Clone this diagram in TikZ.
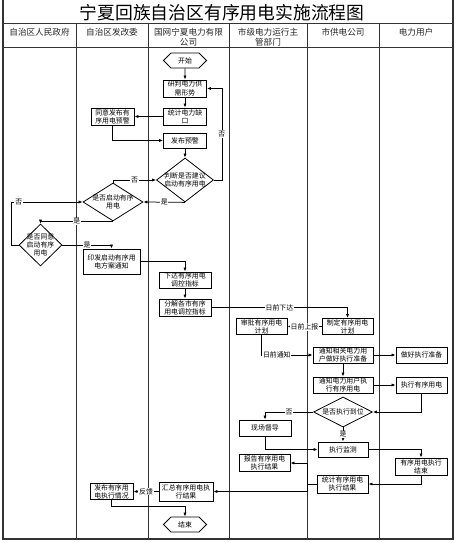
\documentclass[tikz,border=0pt]{standalone}
\usepackage{fontspec}
\newfontfamily\cjk{Noto Sans CJK SC}
\usetikzlibrary{arrows.meta,shapes.geometric,shapes.symbols,calc}

\tikzset{
  lane/.style={line width=0.9pt, black!80},
  frame/.style={line width=1.4pt, black!80},
  head/.style={anchor=north, align=center, inner sep=0pt, text=black!85, font=\cjk\fontsize{8.6}{10}\selectfont},
  box/.style={draw, line width=0.95pt, align=center, inner sep=0.5pt, minimum width=51pt, minimum height=16pt, font=\cjk\fontsize{6.9}{8.2}\selectfont},
  term/.style={signal, signal to=west and east, draw, line width=0.8pt, minimum width=43pt, minimum height=15pt, inner sep=0pt, font=\cjk\fontsize{6.9}{8.2}\selectfont},
  decision/.style={diamond, draw, line width=0.8pt, inner sep=0pt},
  dtext/.style={align=center, inner sep=0pt, font=\cjk\fontsize{6.9}{8.2}\selectfont},
  arr/.style={-{Latex[length=4pt,width=3.2pt]}, line width=0.75pt},
  lbl/.style={fill=white, inner sep=0.8pt, font=\cjk\fontsize{6.9}{8}\selectfont},
}

\begin{document}
\begin{tikzpicture}[x=1pt,y=-1pt]
\useasboundingbox (0,0) rectangle (458,543);

% lanes and header
\draw[frame] (3,0) -- (3,539) -- (453,539) -- (453,0);
\draw[lane] (3,23) -- (453,23);
\draw[lane] (3,47) -- (453,47);
\foreach \x in {76,148,229,307,379}
  \draw[lane] (\x,23) -- (\x,539);

\node[font=\cjk\fontsize{17.8}{20}\selectfont] (title) at (222,12.5) {宁夏回族自治区有序用电实施流程图};
\foreach \cx/\txt [count=\i] in {39.5/自治区人民政府, 112/自治区发改委, 188.5/国网宁夏电力有限\\公司, 268/市级电力运行主\\管部门, 343/市供电公司, 416/电力用户}
  \node[head] (h\i) at (\cx,28) {\txt};

% nodes
\node[term] (start) at (185,60.5) {开始};
\node[box, minimum width=43pt, minimum height=17pt] (yanpan) at (185,88.5) {研判电力供\\需形势};
\node[box, minimum width=43pt, minimum height=17pt] (tongji) at (185,116.5) {统计电力缺\\口};
\node[box, minimum width=43pt, minimum height=17pt] (tongyi) at (112.5,116.5) {同意发布有\\序用电预警};
\node[box, minimum width=43pt, minimum height=15pt] (yujing) at (185,140.5) {发布预警};
\node[decision, minimum width=57pt, minimum height=44pt, label={[dtext]center:{判断是否建议\\启动有序用电}}] (judge) at (185,180) {};
\node[decision, minimum width=60pt, minimum height=38pt, label={[dtext]center:{是否启动有序\\用电}}] (dstart) at (113,202) {};
\node[decision, minimum width=43pt, minimum height=42pt, label={[dtext]center:{是否同意\\启动有序\\用电}}] (dagree) at (40.5,245) {};
\node[box, minimum width=57pt, minimum height=25pt] (yinfa) at (111.5,261.5) {印发启动有序用\\电方案通知};
\node[box, minimum width=52pt] (xiada) at (185,280) {下达有序用电\\调控指标};
\node[box, minimum width=52pt, minimum height=17pt] (fenjie) at (185,307.5) {分解各市有序\\用电调控指标};
\node[box] (shenpi) at (261.5,326.5) {审批有序用电\\计划};
\node[box] (zhiding) at (347.5,326.5) {制定有序用电\\计划};
\node[box, minimum width=60pt] (tongzhi1) at (343,355) {通知相关电力用\\户做好执行准备};
\node[box] (zuohao) at (421.5,355) {做好执行准备};
\node[box, minimum width=60pt] (tongzhi2) at (343,385) {通知电力用户执\\行有序用电};
\node[box] (zhixing) at (421.5,385) {执行有序用电};
\node[decision, minimum width=59pt, minimum height=30pt, label={[dtext]center:{是否执行到位}}] (ddone) at (343,412) {};
\node[box, minimum width=52pt] (ducha) at (265,428) {现场督导};
\node[box, minimum width=50pt, minimum height=15pt] (jiance) at (343,449.5) {执行监测};
\node[box, minimum width=52pt, minimum height=17pt] (yxjs) at (421,466.5) {有序用电执行\\结束};
\node[box, minimum height=17pt] (baogao) at (264.5,463) {报告有序用电\\执行结果};
\node[box, minimum height=18pt] (tjjg) at (342.5,484) {统计有序用电\\执行结果};
\node[box, minimum width=54pt, minimum height=19pt] (huizong) at (186,491.5) {汇总有序用电执\\行结果};
\node[box, minimum width=43pt] (fbqk) at (111.5,491.5) {发布有序用\\电执行情况};
\node[term] (end) at (185,524.5) {结束};

% connectors
\draw[arr] (start) -- (yanpan);
\draw[arr] (yanpan) -- (tongji);
\draw[arr] (tongji) -- (tongyi);
\draw[arr] (tongyi.south) |- (yujing.west);
\draw[arr] (yujing) -- (judge);
\draw[arr] (judge.east) -- ++(8,0) |- node[lbl, pos=0.25]{否} (yanpan.east);
\draw[arr] (dstart.north) |- node[lbl, pos=0.75]{否} (judge.west);
\draw[arr] (judge.south) -- node[lbl]{是} (dstart.east);
\draw[arr] (dagree.west) -- ++(-7,0) |- node[lbl, pos=0.55]{否} (dstart.west);
\draw[arr] (dstart.south) -| node[lbl, pos=0.25]{是} (dagree.north);
\draw[arr] (dagree.east) -| node[lbl, pos=0.25]{是} (yinfa.north);
\draw[arr] (yinfa.east) -| (xiada.north);
\draw[arr] (xiada) -- (fenjie);
\draw[arr] (fenjie.east) -| node[lbl, pos=0.25]{日前下达} (zhiding.north);
\draw[arr] (zhiding) -- node[lbl]{日前上报} (shenpi);
\draw[arr] (shenpi.south) |- node[lbl, pos=0.65]{日前通知} (tongzhi1.west);
\draw[arr] (tongzhi1) -- (zuohao);
\draw[arr] (tongzhi1) -- (tongzhi2);
\draw[arr] (tongzhi2) -- (zhixing);
\draw[arr] (zhixing.south) |- (ddone.east);
\draw[arr] (ddone.west) -| node[lbl, pos=0.25]{否} (ducha.north);
\draw[arr] (ddone.south) -- node[lbl]{是} (jiance.north);
\draw[arr] (ducha.south) |- (jiance.west);
\draw[arr] (jiance.east) -| (yxjs.north);
\draw[arr] (yxjs.south) |- (tjjg.east);
\draw[line width=0.75pt] (tjjg.west) -- ++(-9,0) coordinate (hub);
\draw[arr] (hub) |- (baogao.east);
\draw[arr] (hub) |- (huizong.east);
\draw[arr] (huizong) -- node[lbl]{反馈} (fbqk);
\draw[arr] (fbqk.south) -- ++(0,6) -| (end.north);
\end{tikzpicture}
\end{document}
